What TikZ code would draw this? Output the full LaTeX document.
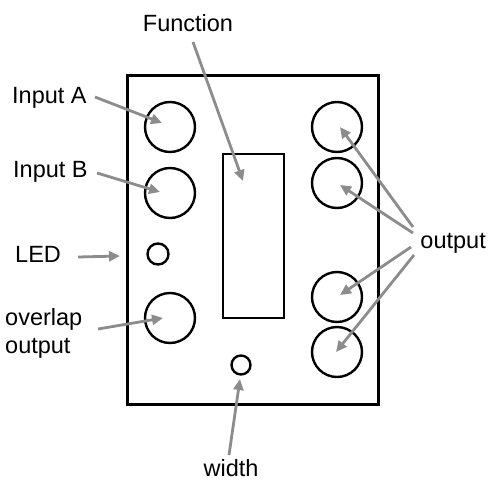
\documentclass[tikz,border=0pt]{standalone}
\usepackage{fontspec}
\setmainfont{Liberation Sans}
\usetikzlibrary{arrows.meta}
\definecolor{arrowgray}{RGB}{140,140,140}
\begin{document}
\begin{tikzpicture}[x=1pt,y=-1pt,
  lbl/.style={font=\fontsize{23.5}{28}\selectfont, inner sep=0pt},
  jack/.style={draw, line width=2.4pt, circle, minimum size=50pt, inner sep=0pt},
  smalljack/.style={draw, line width=2.4pt, circle, minimum size=21pt, inner sep=0pt},
  pointer/.style={draw=arrowgray, line width=2.8pt, -{Triangle[length=11pt,width=10pt]}}
]
\useasboundingbox (0,0) rectangle (488,482);
% panel and display
\node[draw, line width=3pt, minimum width=251pt, minimum height=329pt, inner sep=0pt] (panel) at (252.5,239.5) {};
\node[draw, line width=2.5pt, minimum width=61pt, minimum height=164pt, inner sep=0pt] (display) at (253.5,236) {};
% jacks
\node[jack] (jackA) at (170,127) {};
\node[jack] (jackB) at (170,193) {};
\node[smalljack] (led) at (158,254) {};
\node[jack] (overlap) at (170,318) {};
\node[jack] (out1) at (337,127) {};
\node[jack] (out2) at (337,183) {};
\node[jack] (out3) at (337,297) {};
\node[jack] (out4) at (337,352) {};
\node[smalljack, minimum size=19pt] (knob) at (241,365) {};
% labels
\node[lbl, anchor=base] (tFunction) at (188,31) {Function};
\node[lbl, anchor=base west] (tA) at (12,103) {Input A};
\node[lbl, anchor=base west] (tB) at (13,177) {Input B};
\node[lbl, anchor=base west] (tLED) at (15,262) {LED};
\node[lbl, anchor=base west, align=left] (tOverlap) at (5,353) {overlap\\output};
\node[lbl, anchor=base east] (tOut) at (486,248) {output};
\node[lbl, anchor=base] (tWidth) at (231,476) {width};
% arrow end points
\coordinate (fS) at (193,42);  \coordinate (fE) at (243,181);
\coordinate (aS) at (95,97);   \coordinate (aE) at (162,123);
\coordinate (bS) at (97,173);  \coordinate (bE) at (160,192);
\coordinate (lS) at (78,257);  \coordinate (lE) at (120,256);
\coordinate (vS) at (98,329);  \coordinate (vE) at (163,318);
\coordinate (wS) at (229,455); \coordinate (wE) at (240,379);
\coordinate (o1S) at (413,227); \coordinate (o1E) at (340,127);
\coordinate (o2S) at (413,233); \coordinate (o2E) at (340,185);
\coordinate (o3S) at (411,247); \coordinate (o3E) at (340,295);
\coordinate (o4S) at (414,255); \coordinate (o4E) at (336,352);
% arrows
\draw[pointer] (fS) -- (fE);
\draw[pointer] (aS) -- (aE);
\draw[pointer] (bS) -- (bE);
\draw[pointer] (lS) -- (lE);
\draw[pointer] (vS) -- (vE);
\draw[pointer] (wS) -- (wE);
\draw[pointer] (o1S) -- (o1E);
\draw[pointer] (o2S) -- (o2E);
\draw[pointer] (o3S) -- (o3E);
\draw[pointer] (o4S) -- (o4E);
\end{tikzpicture}
\end{document}
